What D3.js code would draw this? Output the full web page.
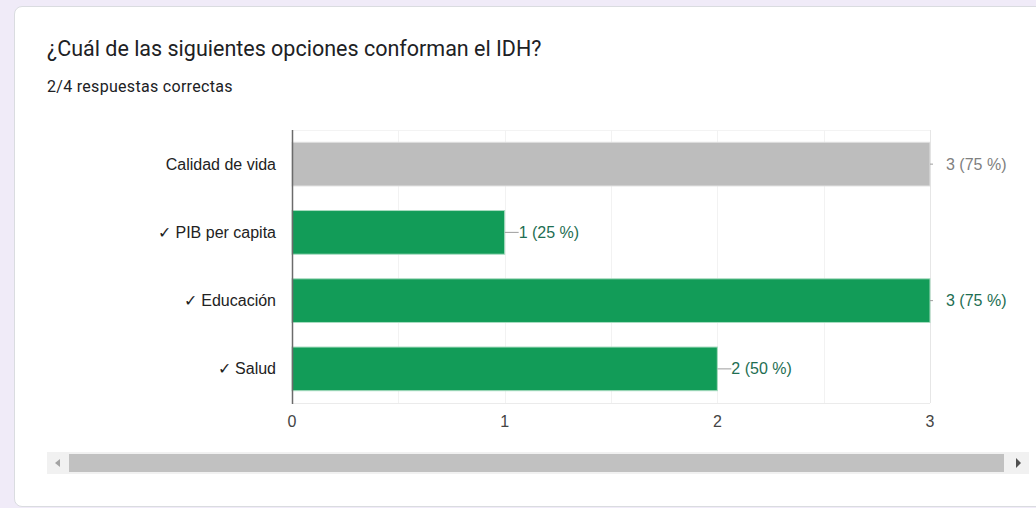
<!DOCTYPE html>
<html>
<head>
<meta charset="utf-8">
<script src="https://cdn.jsdelivr.net/npm/d3@7"></script>
<style>
  body { margin: 0; background: #f0ebf8; }
  #card {
    position: absolute; left: 14px; top: 6px; width: 1040px; height: 499px;
    background: #fff; border-radius: 8px; border: 1px solid #dadce0;
  }
</style>
</head>
<body>
<div id="card"></div>
<svg id="chart" width="1036" height="508" style="position:absolute;left:0;top:0"></svg>
<script>
const title = "¿Cuál de las siguientes opciones conforman el IDH?";
const subtitle = "2/4 respuestas correctas";
const categories = ["Calidad de vida", "✓ PIB per capita", "✓ Educación", "✓ Salud"];
const counts = [3, 1, 3, 2];
const percents = [75, 25, 75, 50];
const correct = [false, true, true, true];
const xTicks = [0, 1, 2, 3];
const gridTicks = [0.5, 1, 1.5, 2, 2.5, 3];

const svg = d3.select("#chart");
const labelFont = "Arial, 'Liberation Sans', sans-serif";

svg.append("text")
    .attr("x", 47).attr("y", 56)
    .attr("font-family", "Roboto, 'Open Sans', sans-serif")
    .attr("font-size", 21.5)
    .attr("fill", "#202124")
    .text(title);

svg.append("text")
    .attr("x", 47).attr("y", 92)
    .attr("font-family", "Roboto, sans-serif")
    .attr("font-size", 16)
    .attr("letter-spacing", 0.3)
    .attr("fill", "#202124")
    .text(subtitle);

const x = d3.scaleLinear().domain([0, 3]).range([292, 930]);
const y = d3.scaleBand().domain(categories).range([130, 403]).paddingInner(0.36).paddingOuter(0.18);

// grid
svg.append("line")
    .attr("x1", x(0)).attr("x2", x(3)).attr("y1", 130.5).attr("y2", 130.5)
    .attr("stroke", "#f3f3f3");
svg.append("line")
    .attr("x1", x(0)).attr("x2", x(3)).attr("y1", 403.5).attr("y2", 403.5)
    .attr("stroke", "#ebebeb");
svg.selectAll(".grid")
    .data(gridTicks)
    .enter().append("line")
    .attr("x1", d => Math.round(x(d)) + 0.5).attr("x2", d => Math.round(x(d)) + 0.5)
    .attr("y1", 130).attr("y2", 403)
    .attr("stroke", d => d === 3 ? "#e6e6e6" : "#f2f2f2");

// bars
svg.selectAll(".bar")
    .data(categories)
    .enter().append("rect")
    .attr("x", x(0))
    .attr("y", d => y(d))
    .attr("width", (d, i) => x(counts[i]) - x(0))
    .attr("height", y.bandwidth())
    .attr("fill", (d, i) => correct[i] ? "#129c58" : "#bdbdbd")
    .attr("stroke", (d, i) => correct[i] ? "#a8dcc0" : "#e0e0e0")
    .attr("stroke-width", 1);

// axis line
svg.append("line")
    .attr("x1", x(0) + 0.5).attr("x2", x(0) + 0.5).attr("y1", 130).attr("y2", 404)
    .attr("stroke", "#6b6b6b").attr("stroke-width", 1.5);

// leader lines and value labels
const labels = svg.selectAll(".val").data(categories).enter().append("g");
labels.append("line")
    .attr("x1", (d, i) => x(counts[i]))
    .attr("x2", (d, i) => x(counts[i]) + (counts[i] === 3 ? 3 : 14))
    .attr("y1", d => y(d) + y.bandwidth() / 2)
    .attr("y2", d => y(d) + y.bandwidth() / 2)
    .attr("stroke", "#9e9e9e");
labels.append("text")
    .attr("x", (d, i) => x(counts[i]) + (counts[i] === 3 ? 16 : 14))
    .attr("y", d => y(d) + y.bandwidth() / 2)
    .attr("dy", "0.35em")
    .attr("font-family", labelFont)
    .attr("font-size", 16)
    .attr("fill", (d, i) => correct[i] ? "#1e6e52" : "#808080")
    .text((d, i) => `${counts[i]} (${percents[i]} %)`);

// category labels
svg.selectAll(".cat")
    .data(categories)
    .enter().append("text")
    .attr("x", 276)
    .attr("y", d => y(d) + y.bandwidth() / 2)
    .attr("dy", "0.35em")
    .attr("text-anchor", "end")
    .attr("font-family", labelFont)
    .attr("font-size", 16)
    .attr("fill", "#222")
    .text(d => d);

// x tick labels
svg.selectAll(".tick")
    .data(xTicks)
    .enter().append("text")
    .attr("x", d => x(d))
    .attr("y", 427)
    .attr("text-anchor", "middle")
    .attr("font-family", labelFont)
    .attr("font-size", 16)
    .attr("fill", "#444")
    .text(d => d);

// scrollbar
svg.append("rect").attr("x", 47).attr("y", 452).attr("width", 982).attr("height", 22).attr("fill", "#f1f1f1");
svg.append("rect").attr("x", 69).attr("y", 454).attr("width", 935).attr("height", 18).attr("fill", "#c1c1c1");
svg.append("path").attr("d", "M60,459 L55,463 L60,467 Z").attr("fill", "#a3a3a3");
svg.append("path").attr("d", "M1016,458 L1021,463 L1016,468 Z").attr("fill", "#505050");
</script>
</body>
</html>
